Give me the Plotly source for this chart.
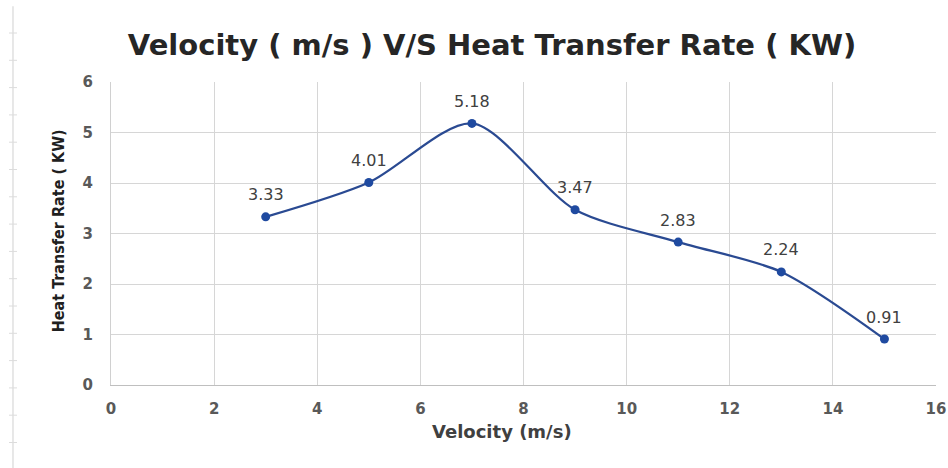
import plotly.graph_objects as go

velocity = [3, 5, 7, 9, 11, 13, 15]
heat_rate = [3.33, 4.01, 5.18, 3.47, 2.83, 2.24, 0.91]
x_ticks = [0, 2, 4, 6, 8, 10, 12, 14, 16]
y_ticks = [0, 1, 2, 3, 4, 5, 6]

line_color = "#2a4a92"
marker_color = "#1f4aa0"

fig = go.Figure()
fig.add_trace(go.Scatter(
    x=velocity, y=heat_rate, mode="lines+markers",
    line=dict(color=line_color, width=2.2, shape="spline", smoothing=0.8),
    marker=dict(color=marker_color, size=9),
    showlegend=False, hoverinfo="x+y",
))

for xv, yv in zip(velocity, heat_rate):
    fig.add_annotation(x=xv, y=yv, text=f"{yv:.2f}", showarrow=False,
                       yshift=22, font=dict(family="DejaVu Sans", size=16, color="#404040"))

fig.add_annotation(xref="paper", yref="paper", x=0.474, y=-0.155, text="<b>Velocity (m/s)</b>",
                   showarrow=False, yanchor="middle",
                   font=dict(family="DejaVu Sans", size=18, color="#404040"))
fig.add_annotation(xref="paper", yref="paper", x=-0.064, y=0.508, text="<b>Heat Transfer Rate ( KW)</b>",
                   showarrow=False, textangle=-90, xanchor="center", yanchor="middle",
                   font=dict(family="DejaVu Sans Condensed", size=16, color="#202020"))

# left margin ruler artefact (scan edge with small marks)
ruler_x = -0.1188
fig.add_shape(type="line", xref="paper", yref="paper", x0=ruler_x, x1=ruler_x, y0=-0.3, y1=1.25,
              line=dict(color="#d0d0d0", width=1))
plot_h = 468 - 82 - 83
plot_w = 948 - 111 - 12
for k in range(16):
    ypx = 33 + 27.3 * k
    yp = (385 - ypx) / plot_h
    fig.add_shape(type="line", xref="paper", yref="paper",
                  x0=ruler_x - 4 / plot_w, x1=ruler_x + 4 / plot_w, y0=yp, y1=yp,
                  line=dict(color="#dcdcdc", width=1))

fig.update_layout(
    width=948, height=468,
    margin=dict(l=111, r=12, t=82, b=83),
    paper_bgcolor="white", plot_bgcolor="white",
    title=dict(text="<b>Velocity ( m/s ) V/S Heat Transfer Rate ( KW)</b>",
               x=0.519, xanchor="center", y=0.905, yanchor="middle",
               font=dict(family="DejaVu Sans", size=29, color="#262626")),
    xaxis=dict(range=[0, 16], tickvals=x_ticks, ticktext=[str(t) for t in x_ticks],
               showgrid=True, gridcolor="#d6d6d6", gridwidth=1,
               showline=True, linecolor="#bfbfbf", mirror=False, zeroline=False,
               tickfont=dict(family="DejaVu Sans", size=15, color="#595959", weight="bold"),
               ticks="", ticklabelstandoff=10, ticklabeloverflow="allow", automargin=False),
    yaxis=dict(range=[0, 6], tickvals=y_ticks, ticktext=[str(t) for t in y_ticks],
               showgrid=True, gridcolor="#d6d6d6", gridwidth=1,
               showline=True, linecolor="#d0d0d0", zeroline=False,
               tickfont=dict(family="DejaVu Sans", size=15, color="#595959", weight="bold"),
               ticks="", ticklabelstandoff=14, automargin=False),
)

fig.write_html("out.html", post_script="document.body.style.margin='0';",
               config={"displayModeBar": False})
